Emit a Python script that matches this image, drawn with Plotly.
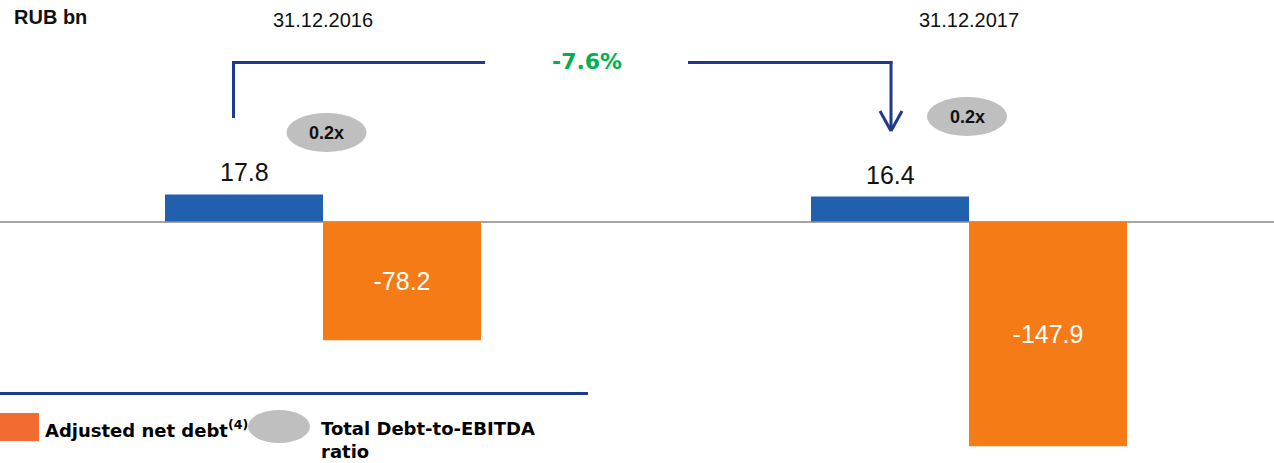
import plotly.graph_objects as go

# ---------------- data ----------------
dates = ["31.12.2016", "31.12.2017"]
total_debt = [17.8, 16.4]
adjusted_net_debt = [-78.2, -147.9]
debt_to_ebitda = ["0.2x", "0.2x"]
change_label = "-7.6%"
unit_label = "RUB bn"
legend_net_debt = "Adjusted net debt<sup>(4)</sup>"
legend_ratio = "Total Debt-to-EBITDA<br>ratio"

# ---------------- geometry helpers ----------------
W, H = 1274, 463
TOP = 32                      # top margin (room for date labels)
PLOT_H = H - TOP
ZERO_PX = 221.5
SCALE = 1.52                  # px per RUB bn


def py(p):
    """pixel row -> paper y"""
    return (H - p) / PLOT_H


def px(p):
    """pixel column -> paper x"""
    return p / W


BLUE = "#2160AD"
ORANGE = "#F47B16"
NAVY = "#1F3A8A"
GREY = "#BFBFBF"
GREEN = "#00B050"

fig = go.Figure()
fig.add_trace(go.Bar(
    x=dates, y=total_debt, name="Total debt",
    marker=dict(color=BLUE, line=dict(width=0)),
    showlegend=False, hoverinfo="x+y",
))
fig.add_trace(go.Bar(
    x=dates, y=adjusted_net_debt, name="Adjusted net debt",
    marker=dict(color=ORANGE, line=dict(width=0)),
    text=[f"{v:.1f}" for v in adjusted_net_debt],
    textposition="inside", insidetextanchor="middle",
    textfont=dict(family="Liberation Sans, Arial", size=25, color="white"),
    constraintext="none", textangle=0,
    showlegend=False, hoverinfo="x+y",
))

# labels above blue bars
annotations = []
for d, v in zip(dates, total_debt):
    annotations.append(dict(
        x=d, y=v, xref="x", yref="y", xshift=-79, yshift=6,
        text=f"{v:.1f}", showarrow=False, yanchor="bottom",
        font=dict(family="Liberation Sans, Arial", size=25, color="#111111"),
    ))

shapes = []
# Debt-to-EBITDA ellipses
ell_centers_px = [(326.5, 132.5), (967, 116.5)]
ell_w, ell_h = 80, 39
for (cx, cy), lab in zip(ell_centers_px, debt_to_ebitda):
    shapes.append(dict(type="circle", xref="paper", yref="paper",
                       x0=px(cx - ell_w / 2), x1=px(cx + ell_w / 2),
                       y0=py(cy + ell_h / 2), y1=py(cy - ell_h / 2),
                       fillcolor=GREY, line=dict(width=0), layer="above"))
    annotations.append(dict(x=px(cx), y=py(cy), xref="paper", yref="paper",
                            text=f"<b>{lab}</b>", showarrow=False,
                            xanchor="center", yanchor="middle",
                            font=dict(family="Liberation Sans, Arial", size=18, color="#111111")))

# bracket arrow
line_style = dict(color=NAVY, width=3)
seg = [
    (233.5, 118, 233.5, 62.5),
    (232, 62.5, 485, 62.5),
    (688, 62.5, 892.5, 62.5),
    (891, 61, 891, 130),
    (880, 111, 891, 131),
    (902, 111, 891, 131),
]
for x0, y0, x1, y1 in seg:
    shapes.append(dict(type="line", xref="paper", yref="paper",
                       x0=px(x0), y0=py(y0), x1=px(x1), y1=py(y1),
                       line=line_style, layer="above"))
annotations.append(dict(x=px(587), y=py(62), xref="paper", yref="paper",
                        text=f"<b>{change_label}</b>", showarrow=False,
                        xanchor="center", yanchor="middle",
                        font=dict(family="DejaVu Sans", size=22, color=GREEN)))

# unit label
annotations.append(dict(x=px(12), y=py(17), xref="paper", yref="paper",
                        text=f"<b>{unit_label}</b>", showarrow=False,
                        xanchor="left", yanchor="middle",
                        font=dict(family="Liberation Sans, Arial", size=20, color="#111111")))

# legend block
shapes.append(dict(type="line", xref="paper", yref="paper",
                   x0=0, x1=px(588), y0=py(393.5), y1=py(393.5),
                   line=dict(color=NAVY, width=3), layer="above"))
shapes.append(dict(type="rect", xref="paper", yref="paper",
                   x0=0, x1=px(39), y0=py(441), y1=py(413),
                   fillcolor="#F26C32", line=dict(width=0), layer="above"))
shapes.append(dict(type="circle", xref="paper", yref="paper",
                   x0=px(248), x1=px(310), y0=py(443), y1=py(410),
                   fillcolor=GREY, line=dict(width=0), layer="above"))
annotations.append(dict(x=px(43), y=py(429), xref="paper", yref="paper",
                        text=f"<b>{legend_net_debt}</b>", showarrow=False,
                        xanchor="left", yanchor="middle",
                        font=dict(family="DejaVu Sans", size=18, color="#000000")))
annotations.append(dict(x=px(319), y=py(440), xref="paper", yref="paper",
                        text=f"<b>{legend_ratio}</b>", showarrow=False,
                        xanchor="left", yanchor="middle", align="left",
                        font=dict(family="DejaVu Sans", size=18, color="#000000")))

x_unit = 646.0
fig.update_layout(
    width=W, height=H,
    margin=dict(l=0, r=0, t=TOP, b=0, pad=0),
    paper_bgcolor="white", plot_bgcolor="white",
    barmode="group", bargap=1 - 2 * 158 / x_unit, bargroupgap=0,
    xaxis=dict(type="category", side="top", range=[-0.5, (W - 323) / x_unit - 0.5 + 0.5 - 0.0],
               showgrid=False, showline=False, ticks="", zeroline=False,
               tickfont=dict(family="Liberation Sans, Arial", size=20, color="#111111"),
               fixedrange=True),
    yaxis=dict(range=[-(H - ZERO_PX) / SCALE, (ZERO_PX - TOP) / SCALE],
               showgrid=False, showticklabels=False, ticks="", showline=False,
               zeroline=True, zerolinecolor="#A6A6A6", zerolinewidth=2,
               fixedrange=True),
    shapes=shapes, annotations=annotations,
    font=dict(family="Liberation Sans, Arial"),
    showlegend=False,
)

fig.write_html("out.html")
